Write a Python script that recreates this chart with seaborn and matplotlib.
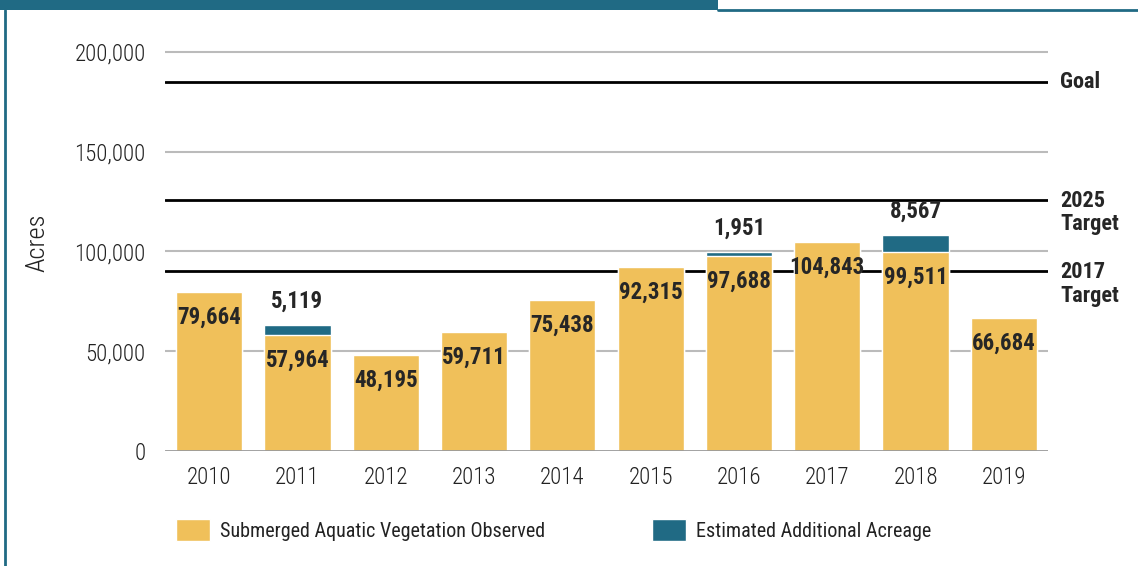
import matplotlib
matplotlib.use('Agg')
import matplotlib.pyplot as plt
from matplotlib import font_manager
from matplotlib.patches import Patch, Rectangle
from matplotlib.lines import Line2D
import seaborn as sns
import pandas as pd

years = ['2010', '2011', '2012', '2013', '2014', '2015', '2016', '2017', '2018', '2019']
observed = [79664, 57964, 48195, 59711, 75438, 92315, 97688, 104843, 99511, 66684]
additional = [0, 5119, 0, 0, 0, 0, 1951, 0, 8567, 0]
ref_lines = [185000, 126000, 90000]
ref_labels = ['Goal', '2025\nTarget', '2017\nTarget']
ytick_vals = [0, 50000, 100000, 150000, 200000]

yellow = '#F0C05A'
teal = '#206A84'

sns.set_style('white')
names = {f.name for f in font_manager.fontManager.ttflist}
font = 'DejaVu Sans'
for cand in ['Roboto Condensed', 'Liberation Sans Narrow', 'Open Sans Condensed']:
    if cand in names:
        font = cand
        break
plt.rcParams['font.family'] = [font, 'DejaVu Sans']

df = pd.DataFrame({'year': years, 'observed': observed, 'additional': additional})
df['total'] = df['observed'] + df['additional']

fig = plt.figure(figsize=(11.38, 5.66), dpi=100)
ax = fig.add_axes([165 / 1138, 1 - 451 / 566, 883 / 1138, 419 / 566])

# stacked look: totals in teal underneath, observed in yellow on top
sns.barplot(data=df, x='year', y='total', color=teal, saturation=1, width=0.75, ax=ax, zorder=3)
sns.barplot(data=df, x='year', y='observed', color=yellow, saturation=1, width=0.75, ax=ax, zorder=4)

ax.set_xlim(-0.5, 9.5)
ax.set_ylim(0, 210000)
ax.set_yticks(ytick_vals)
ax.set_yticklabels([f'{v:,}' for v in ytick_vals], fontweight='light')
ax.set_xticks(range(len(years)))
ax.set_xticklabels(years, fontweight='light')
ax.tick_params(axis='y', length=0, pad=14, labelsize=16.5, labelcolor='#222222')
ax.tick_params(axis='x', length=0, pad=11, labelsize=16.5, labelcolor='#222222')
ax.set_xlabel('')
ax.set_ylabel('Acres', fontsize=19, color='#222222', fontweight='light')
ax.yaxis.set_label_coords(-0.131, 0.5 * 200000 / 210000 + 0.02)
for s in ax.spines.values():
    s.set_visible(False)
for v in ytick_vals[1:]:
    ax.axhline(v, color='#bbbbbb', lw=1.5, zorder=1)
ax.axhline(0, color='#999999', lw=2, zorder=5)

for v, lab in zip(ref_lines, ref_labels):
    ax.axhline(v, color='black', lw=2, zorder=2)
    two = '\n' in lab
    ax.annotate(lab, xy=(1.0136, v), xycoords=ax.get_yaxis_transform(),
                xytext=(0, 10 if two else 0), textcoords='offset pixels',
                ha='left', va='top' if two else 'center',
                fontsize=16, fontweight='bold', linespacing=1.1, annotation_clip=False)

for i, row in df.iterrows():
    ax.annotate(f"{row['observed']:,}", xy=(i, row['observed']), xytext=(0, -25),
                textcoords='offset pixels', ha='center', va='center',
                fontsize=16.5, fontweight='bold', zorder=6)
    if row['additional'] > 0:
        ax.annotate(f"{row['additional']:,}", xy=(i, row['total']), xytext=(0, 24),
                    textcoords='offset pixels', ha='center', va='center',
                    fontsize=16.5, fontweight='bold', zorder=6)

handles = [Patch(facecolor=yellow, label='Submerged Aquatic Vegetation Observed'),
           Patch(facecolor=teal, label='Estimated Additional Acreage')]
fig.legend(handles=handles, loc='center', bbox_to_anchor=(0.4864, 0.064), ncol=2,
           frameon=False, prop={'size': 14.5}, handlelength=1.7,
           handleheight=1.3, columnspacing=5.3, handletextpad=0.5, labelcolor='#222222')

# frame around the graphic
fig.add_artist(Rectangle((0, 1 - 10 / 566), 718 / 1138, 10 / 566, transform=fig.transFigure,
                         facecolor=teal, edgecolor='none'))
fig.add_artist(Line2D([718 / 1138, 1], [1 - 10 / 566, 1 - 10 / 566], transform=fig.transFigure,
                      color=teal, lw=2))
fig.add_artist(Line2D([5 / 1138, 5 / 1138], [0, 1 - 10 / 566], transform=fig.transFigure,
                      color=teal, lw=2))

fig.savefig('out.png', dpi=100)
